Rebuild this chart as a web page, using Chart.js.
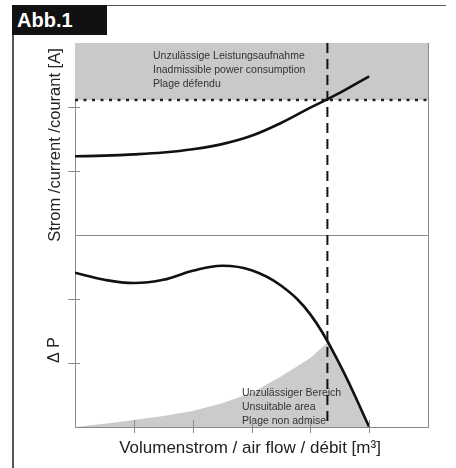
<!DOCTYPE html>
<html>
<head>
<meta charset="utf-8">
<title>Abb.1</title>
<script src="https://cdn.jsdelivr.net/npm/chart.js@4.4.1/dist/chart.umd.min.js"></script>
<style>
    html, body { margin: 0; padding: 0; background: #fff; }
    #wrap { position: relative; width: 456px; height: 468px; overflow: hidden; }
    #kennlinie { position: absolute; left: 0; top: 0; }
    .rahmen-oben { position: absolute; left: 13px; top: 5px; width: 433px; border-top: 1.5px solid #555; }
    .rahmen-links { position: absolute; left: 12px; top: 5px; height: 463px; border-left: 2px solid #555; }
    .reiter {
        position: absolute; left: 12px; top: 5px; width: 95px; height: 30px;
        background: #111; color: #fff; box-sizing: border-box; padding-left: 5px;
        font: bold 20px "Liberation Sans", Arial, sans-serif; line-height: 30px;
    }
</style>
</head>
<body>
<div id="wrap">
    <canvas id="kennlinie" width="456" height="468"></canvas>
    <div class="rahmen-oben"></div>
    <div class="rahmen-links"></div>
    <div class="reiter">Abb.1</div>
</div>
<script>
// Volumenstrom (x), Skala 0..6 ohne Zahlen
const volumenstrom = [0, 0.5, 1, 1.5, 2, 2.5, 3, 3.5, 4, 4.5, 5];
// Strom (obere Hälfte, y 3..6)
const strom = [4.23, 4.24, 4.26, 4.29, 4.34, 4.42, 4.55, 4.75, 4.99, 5.22, 5.48];
// Druckdifferenz (untere Hälfte, y 0..3)
const druck = [2.41, 2.30, 2.25, 2.30, 2.44, 2.52, 2.45, 2.21, 1.76, 0.98, 0];

// Grenze des unzulässigen Bereichs (grau, unten)
const bereichX = [0, 0.5, 1, 1.5, 2, 2.5, 3, 3.5, 4, 4.29, 4.5, 5];
const bereichY = [0, 0.05, 0.11, 0.17, 0.25, 0.37, 0.53, 0.79, 1.08, 1.32, 0.98, 0];

const stromGrenze = 5.11;     // gepunktete Linie
const betriebspunkt = 4.29;   // gestrichelte Senkrechte

const xTicks = [1, 2, 3, 4, 5];
const yTicks = [1, 2, 4, 5];

const punkte = (xs, ys) => xs.map((x, i) => ({ x: x, y: ys[i] }));

const schrift = '"Liberation Sans", Arial, sans-serif';

// Tickstriche und Beschriftungen
const beschriftung = {
    id: 'beschriftung',
    beforeDatasetsDraw(chart) {
        const ctx = chart.ctx;
        const a = chart.chartArea;
        ctx.save();
        ctx.fillStyle = '#333';
        ctx.font = '10.5px ' + schrift;
        ctx.textBaseline = 'middle';
        ['Unzulässige Leistungsaufnahme', 'Inadmissible power consumption', 'Plage défendu']
            .forEach((t, i) => ctx.fillText(t, a.left + 78, a.top + 13 + i * 14));
        ['Unzulässiger Bereich', 'Unsuitable area', 'Plage non admise']
            .forEach((t, i) => ctx.fillText(t, a.left + 167, a.bottom - 34 + i * 14));
        ctx.restore();
    },
    afterDraw(chart) {
        const ctx = chart.ctx;
        const a = chart.chartArea;
        const x = chart.scales.x;
        const y = chart.scales.y;
        ctx.save();
        ctx.strokeStyle = '#8a8a8a';
        ctx.lineWidth = 1;
        ctx.beginPath();
        xTicks.forEach(v => {
            const px = Math.round(x.getPixelForValue(v)) + 0.5;
            ctx.moveTo(px, a.bottom - 7);
            ctx.lineTo(px, a.bottom + 6);
        });
        yTicks.forEach(v => {
            const py = Math.round(y.getPixelForValue(v)) + 0.5;
            ctx.moveTo(a.left - 7, py);
            ctx.lineTo(a.left + 5, py);
        });
        ctx.stroke();

        ctx.fillStyle = '#222';
        ctx.textAlign = 'center';
        ctx.textBaseline = 'middle';
        ctx.font = '17px ' + schrift;
        ctx.fillText('Volumenstrom / air flow / débit [m³]', 250, 448);

        ctx.font = '16.5px ' + schrift;
        ctx.translate(55, 145);
        ctx.rotate(-Math.PI / 2);
        ctx.fillText('Strom /current /courant [A]', 0, 0);
        ctx.restore();

        ctx.save();
        ctx.fillStyle = '#222';
        ctx.textAlign = 'center';
        ctx.textBaseline = 'middle';
        ctx.font = '16px ' + schrift;
        ctx.translate(55, 350);
        ctx.rotate(-Math.PI / 2);
        ctx.fillText('Δ P', 0, 0);
        ctx.restore();
    }
};

const ctx = document.getElementById('kennlinie').getContext('2d');

new Chart(ctx, {
    type: 'line',
    data: {
        datasets: [
            {
                label: 'Betriebspunkt',
                data: [{ x: betriebspunkt, y: 6 }, { x: betriebspunkt, y: 0 }],
                borderColor: '#111',
                borderWidth: 2,
                borderDash: [10, 6],
                pointRadius: 0
            },
            {
                label: 'Strom',
                data: punkte(volumenstrom, strom),
                borderColor: '#111',
                borderWidth: 2.6,
                tension: 0.4,
                pointRadius: 0
            },
            {
                label: 'ΔP',
                data: punkte(volumenstrom, druck),
                borderColor: '#111',
                borderWidth: 2.6,
                tension: 0.4,
                pointRadius: 0
            },
            {
                label: 'Stromgrenze',
                data: [{ x: 0, y: stromGrenze }, { x: 6, y: stromGrenze }],
                borderColor: '#222',
                borderWidth: 2.5,
                borderDash: [3, 5.5],
                pointRadius: 0
            },
            {
                label: 'Unzulässige Leistungsaufnahme',
                data: [{ x: 0, y: 6 }, { x: 6, y: 6 }],
                borderWidth: 0,
                backgroundColor: '#c9c9c9',
                fill: { value: stromGrenze },
                pointRadius: 0
            },
            {
                label: 'Unzulässiger Bereich',
                data: punkte(bereichX, bereichY),
                borderWidth: 0,
                backgroundColor: '#cbcbcb',
                fill: 'origin',
                tension: 0,
                pointRadius: 0
            }
        ]
    },
    options: {
        responsive: false,
        animation: false,
        layout: { padding: { left: 75, right: 28, top: 43, bottom: 41 } },
        plugins: {
            legend: { display: false },
            tooltip: { enabled: false },
            filler: { drawTime: 'beforeDatasetsDraw' }
        },
        scales: {
            x: {
                type: 'linear',
                min: 0,
                max: 6,
                ticks: { stepSize: 1, display: false },
                border: { color: '#8a8a8a', width: 1 },
                grid: {
                    drawTicks: false,
                    color: c => c.tick.value === 6 ? '#8a8a8a' : 'transparent'
                }
            },
            y: {
                min: 0,
                max: 6,
                ticks: { stepSize: 1, display: false },
                border: { color: '#8a8a8a', width: 1 },
                grid: {
                    drawTicks: false,
                    color: c => (c.tick.value === 3 || c.tick.value === 6) ? '#8a8a8a' : 'transparent'
                }
            }
        }
    },
    plugins: [beschriftung]
});
</script>
</body>
</html>
